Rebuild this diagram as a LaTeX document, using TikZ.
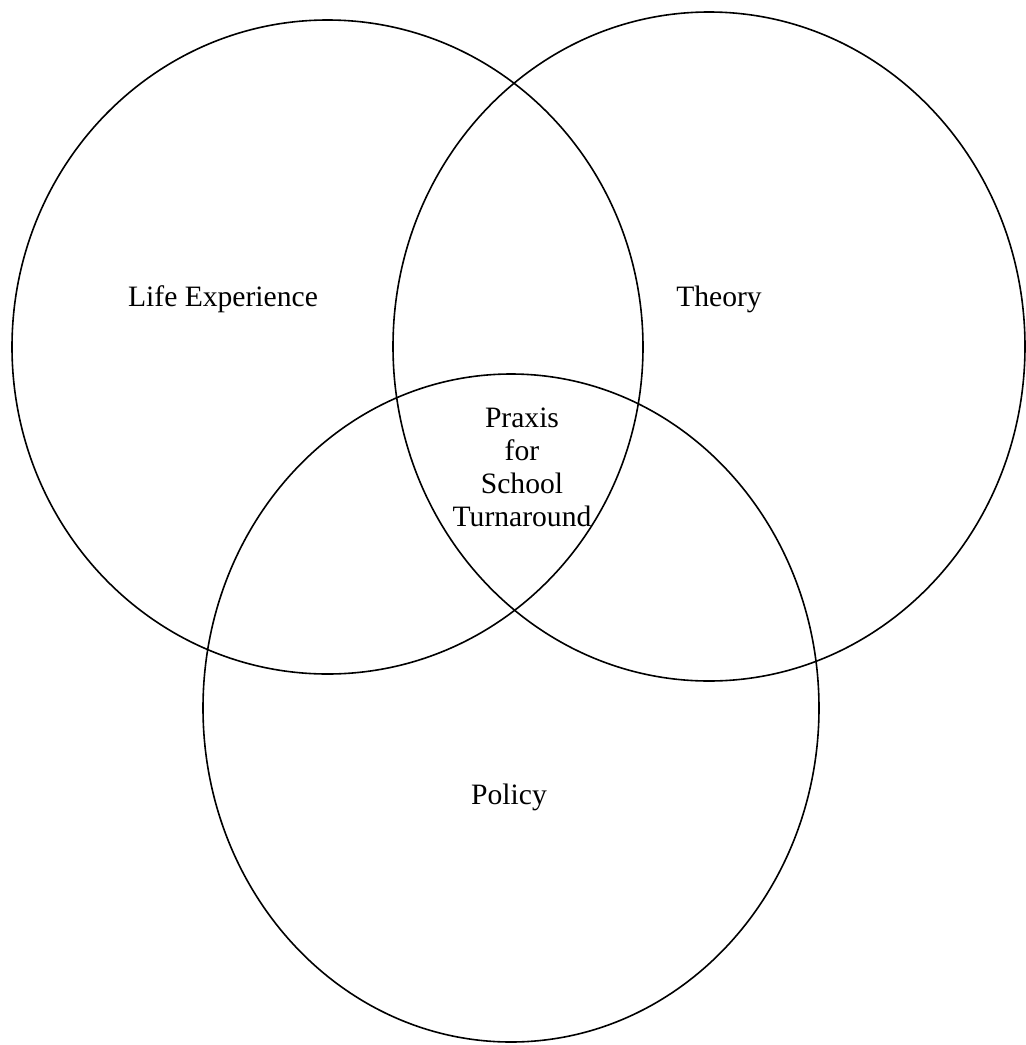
\documentclass[tikz,border=0pt]{standalone}
\usepackage{fontspec}
\setmainfont{Liberation Serif}
\usepackage{tikz}
\usetikzlibrary{shapes.geometric}

\begin{document}
\begin{tikzpicture}[x=1pt, y=-1pt, ring/.style={ellipse, draw, line width=1.6pt, inner sep=0pt}, label text/.style={font=\fontsize{29.6}{33}\selectfont, align=center}]
    \useasboundingbox (0,0) rectangle (1026,1045);
    \clip (0,0) rectangle (1026,1045);
    \node[ring, minimum width=631pt, minimum height=654pt] (life) at (327.5,347) {};
    \node[ring, minimum width=632pt, minimum height=669pt] (theory) at (709,346.5) {};
    \node[ring, minimum width=616pt, minimum height=668pt] (policy) at (511,708) {};

    \node[label text] (lifetxt) at (223,299) {Life Experience};
    \node[label text] (theorytxt) at (719,299) {Theory};
    \node[label text] (policytxt) at (509,797) {Policy};
    \node[label text] (praxis) at (522,467) {Praxis\\for\\School\\Turnaround};
\end{tikzpicture}
\end{document}
